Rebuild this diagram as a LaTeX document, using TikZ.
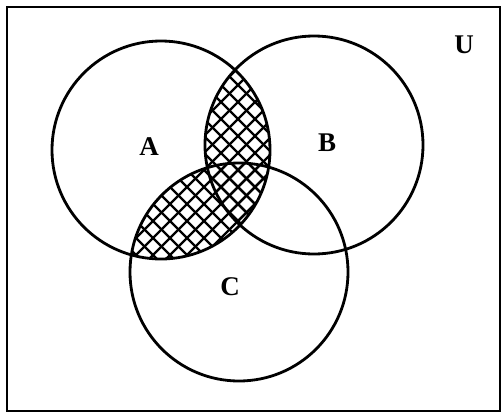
\documentclass[tikz,border=0pt]{standalone}
\usepackage{fontspec}
\setmainfont{Liberation Serif}
\begin{document}
\begin{tikzpicture}[x=1pt,y=-1pt,
  setline/.style={draw, line width=2.8pt},
  lbl/.style={font=\fontsize{27}{27}\selectfont\bfseries, inner sep=0pt},
  hatch/.style={line width=2.2pt}]
\useasboundingbox (0,0) rectangle (503,413);
\draw[line width=2pt] (7,7) rectangle (500,411);
\coordinate (A) at (161,150);
\coordinate (B) at (314,145);
\coordinate (C) at (239,272);
% hatching of A and (B or C)
\begin{scope}
  \clip (A) circle[radius=109];
  \clip (B) circle[radius=109];
  \foreach \i in {-30,...,60} {
    \draw[hatch] (\i*17,0) -- ++(413,413);
    \draw[hatch] (\i*17,0) -- ++(-413,413);
  }
\end{scope}
\begin{scope}
  \clip (A) circle[radius=109];
  \clip (C) circle[radius=109];
  \foreach \i in {-30,...,60} {
    \draw[hatch] (\i*17,0) -- ++(413,413);
    \draw[hatch] (\i*17,0) -- ++(-413,413);
  }
\end{scope}
\draw[setline] (A) circle[radius=109];
\draw[setline] (B) circle[radius=109];
\draw[setline] (C) circle[radius=109];
\node[lbl] (la) at (149,147) {A};
\node[lbl] (lb) at (327,143) {B};
\node[lbl] (lc) at (230,287) {C};
\node[lbl] (lu) at (464,45) {U};
\end{tikzpicture}
\end{document}
